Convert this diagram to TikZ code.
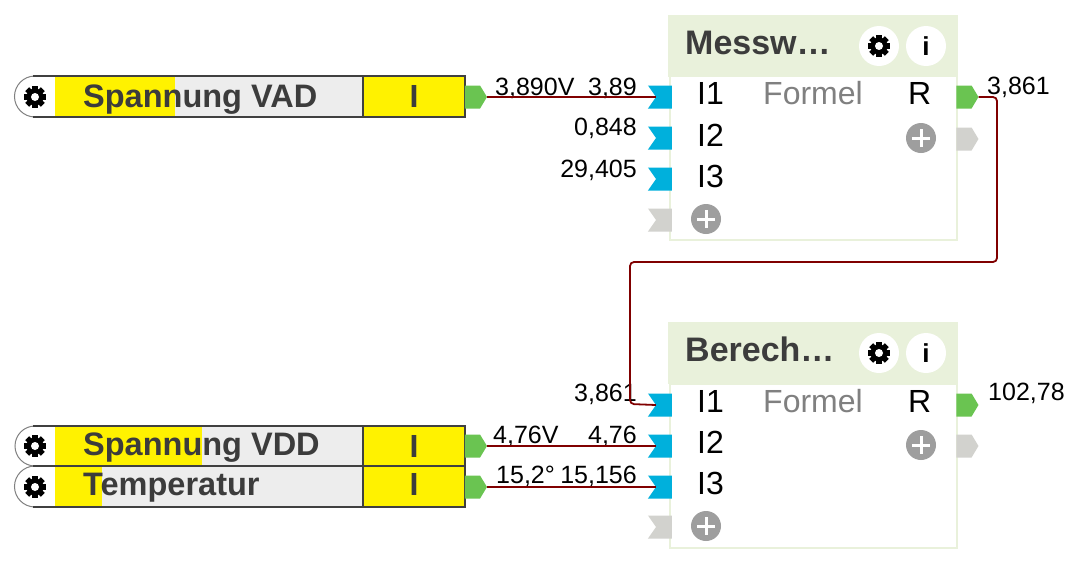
\documentclass[tikz,border=0pt]{standalone}
\usepackage{fontspec}
\setmainfont{Liberation Sans}
\usetikzlibrary{shapes.symbols}
\definecolor{blockgreen}{HTML}{E9F1DB}
\definecolor{wirered}{HTML}{800000}
\definecolor{portblue}{HTML}{00B0DC}
\definecolor{portgreen}{HTML}{6AC451}
\definecolor{portgrey}{HTML}{D2D2CE}
\definecolor{framegrey}{HTML}{404040}
\definecolor{textgrey}{HTML}{3C3C3C}
\tikzset{
  wire/.style={draw=wirered,line width=1.8pt},
  outport/.style={signal,signal to=east,signal from=nowhere,signal pointer angle=118,
    inner sep=0pt,minimum width=22pt,minimum height=23pt,fill=#1},
  inport/.style={signal,signal to=nowhere,signal from=west,signal pointer angle=110,
    inner sep=0pt,minimum width=24pt,minimum height=23pt,fill=#1},
  block/.style={draw=blockgreen,line width=2pt,fill=white,inner sep=0pt,outer sep=0pt,
    minimum width=287pt,minimum height=164pt,anchor=north west},
  headbar/.style={fill=blockgreen,inner sep=0pt,outer sep=0pt,minimum width=290pt,minimum height=62pt,anchor=north west},
  title/.style={anchor=base west,inner sep=0pt,text=textgrey,font=\fontsize{34}{36}\bfseries\selectfont},
  pinlabel/.style={anchor=base west,inner sep=0pt,font=\fontsize{32}{36}\selectfont},
  formel/.style={pinlabel,text=gray},
  value/.style={inner sep=0pt,font=\fontsize{25}{28}\selectfont},
  rowlabel/.style={anchor=base west,inner sep=0pt,text=textgrey,font=\fontsize{32.5}{36}\bfseries\selectfont},
  rowcell/.style={draw=framegrey,line width=2pt,fill=yellow,inner sep=0pt,minimum width=102pt,
    text=textgrey,font=\fontsize{32}{36}\bfseries\selectfont},
  iconback/.style={circle,fill=white,inner sep=0pt,minimum size=40pt,
    font=\fontsize{26}{30}\bfseries\selectfont},
  gearicon/.pic={
    \foreach \a in {0,45,...,135} \fill[black,rotate=\a] (-2.8,-11) rectangle (2.8,11);
    \fill[black] (0,0) circle [radius=8.5];
    \fill[white] (0,0) circle [radius=4];
  },
  plusicon/.pic={
    \fill[black!38] (0,0) circle [radius=15];
    \fill[white] (-9,-1.5) rectangle (9,1.5);
    \fill[white] (-1.5,-9) rectangle (1.5,9);
  }
}
\begin{document}
\begin{tikzpicture}[x=1pt,y=-1pt]
  \useasboundingbox[fill=white] (0,0) rectangle (1080,568);

  % sensor rows
  \fill[yellow] (55,76) rectangle (175,117);
  \fill[black!7] (175,76) rectangle (363,117);
  \fill[yellow] (55,426) rectangle (202,466);
  \fill[black!7] (202,426) rectangle (363,466);
  \fill[yellow] (55,466) rectangle (102,507);
  \fill[black!7] (102,466) rectangle (363,507);
  \draw[gray,line width=1pt] (35,76) arc [start angle=270, end angle=90, radius=20.5];
  \draw[gray,line width=1pt] (35,426) arc [start angle=270, end angle=90, radius=20];
  \draw[gray,line width=1pt] (35,466) arc [start angle=270, end angle=90, radius=20.5];
  \draw[framegrey,line width=2pt] (33,76) -- (363,76);
  \draw[framegrey,line width=2pt] (33,117) -- (363,117);
  \draw[framegrey,line width=2pt] (33,426) -- (363,426);
  \draw[framegrey,line width=2pt] (33,466) -- (363,466);
  \draw[framegrey,line width=2pt] (33,507) -- (363,507);
  \pic at (35,97) {gearicon};
  \pic at (35,446) {gearicon};
  \pic at (35,487) {gearicon};
  \node[rowlabel] (labelvad) at (83,107) {Spannung VAD};
  \node[rowlabel] (labelvdd) at (83,455) {Spannung VDD};
  \node[rowlabel] (labeltemp) at (83,495) {Temperatur};
  \node[rowcell,minimum height=41pt] (cellvad) at (414,96.5) {I};
  \node[rowcell,minimum height=40pt] (cellvdd) at (414,446) {I};
  \node[rowcell,minimum height=41pt,text depth=4pt] (celltemp) at (414,486.5) {I};
  \node[outport=portgreen] (outvad) at (472.5,97) {};
  \node[outport=portgreen] (outvdd) at (472.5,446) {};
  \node[outport=portgreen] (outtemp) at (472.5,487) {};

  % upper block
  \node[block] (messbody) at (669.5,76) {};
  \node[headbar] (messhead) at (668,15) {};
  \node[title] (messtitle) at (685,54) {Messw…};
  \node[iconback] (messgear) at (879,46) {};
  \pic at (messgear) {gearicon};
  \node[iconback] (messinfo) at (926,46) {i};
  \node[pinlabel] (messa) at (697,104) {I1};
  \node[pinlabel] (messb) at (697,146) {I2};
  \node[pinlabel] (messc) at (697,187) {I3};
  \node[formel] (messform) at (763,104) {Formel};
  \node[pinlabel] (messr) at (908,104) {R};
  \node[inport=portblue] (messina) at (664,97) {};
  \node[inport=portblue] (messinb) at (664,138) {};
  \node[inport=portblue] (messinc) at (664,179) {};
  \node[inport=portgrey] (messind) at (664,220) {};
  \pic at (706,219) {plusicon};
  \node[outport=portgreen] (messout) at (964,97) {};
  \node[outport=portgrey] (messoutb) at (964,139) {};
  \pic at (921,138) {plusicon};

  % lower block
  \node[block] (berbody) at (669.5,384) {};
  \node[headbar] (berhead) at (668,322) {};
  \node[title] (bertitle) at (685,361) {Berech…};
  \node[iconback] (bergear) at (879,353) {};
  \pic at (bergear) {gearicon};
  \node[iconback] (berinfo) at (926,353) {i};
  \node[pinlabel] (bera) at (697,412) {I1};
  \node[pinlabel] (berb) at (697,453) {I2};
  \node[pinlabel] (berc) at (697,494) {I3};
  \node[formel] (berform) at (763,412) {Formel};
  \node[pinlabel] (berr) at (908,412) {R};
  \node[inport=portblue] (berina) at (664,405) {};
  \node[inport=portblue] (berinb) at (664,446) {};
  \node[inport=portblue] (berinc) at (664,487) {};
  \node[inport=portgrey] (berind) at (664,527) {};
  \pic at (706,526) {plusicon};
  \node[outport=portgreen] (berout) at (964,405) {};
  \node[outport=portgrey] (beroutb) at (964,446) {};
  \pic at (921,445) {plusicon};

  % values
  \node[value,anchor=base west] (valvad) at (495,95) {3,890V};
  \node[value,anchor=base east] (valmessa) at (637,95) {3,89};
  \node[value,anchor=base east] (valmessb) at (637,135) {0,848};
  \node[value,anchor=base east] (valmessc) at (637,177) {29,405};
  \node[value,anchor=base west] (valmessr) at (987,94) {3,861};
  \node[value,anchor=base east] (valbera) at (637,401) {3,861};
  \node[value,anchor=base west] (valvdd) at (493,443) {4,76V};
  \node[value,anchor=base east] (valberb) at (637,443) {4,76};
  \node[value,anchor=base west] (valtemp) at (496,483) {15,2°};
  \node[value,anchor=base east] (valberc) at (637,483) {15,156};
  \node[value,anchor=base west] (valberr) at (988,400) {102,78};

  % wires
  \draw[wire] (outvad.east) -- (messina.west);
  \draw[wire] (outvdd.east) -- (berinb.west);
  \draw[wire] (outtemp.east) -- (berinc.west);
  \draw[wire,rounded corners=4pt] (messout.east) -- (997,97) -- (997,262) -- (630,262)
    -- (630,404) -- (berina.west);
\end{tikzpicture}
\end{document}
